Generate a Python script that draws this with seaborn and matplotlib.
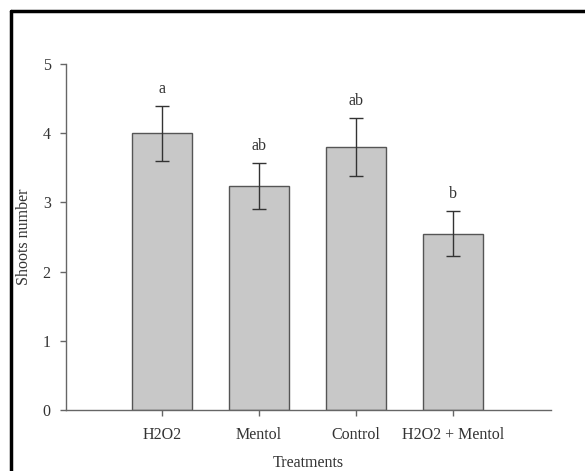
import pandas as pd
import matplotlib.pyplot as plt
import seaborn as sns
from matplotlib.lines import Line2D

treatments = ['H2O2', 'Mentol', 'Control', 'H2O2 + Mentol']
shoots = [4.0, 3.24, 3.80, 2.55]
errors = [0.40, 0.33, 0.42, 0.33]
letters = ['a', 'ab', 'ab', 'b']

df = pd.DataFrame({'Treatment': treatments, 'Shoots': shoots})

sns.set_style('ticks')
plt.rcParams['font.family'] = ['Liberation Serif', 'DejaVu Serif']

fig = plt.figure(figsize=(5.85, 4.71), dpi=100)
ax = fig.add_axes([0.1128, 0.1295, 0.829, 0.7345])

sns.barplot(data=df, x='Treatment', y='Shoots', order=treatments, color='#c8c8c8',
            saturation=1, width=0.61, edgecolor='#555555', linewidth=1, errorbar=None, ax=ax)

xs = ax.get_xticks()
ax.errorbar(xs, shoots, yerr=errors, fmt='none', ecolor='#333333', elinewidth=1,
            capsize=5, capthick=1)
for x, m, e, t in zip(xs, shoots, errors, letters):
    ax.text(x, m + e + 0.13, t, ha='center', va='bottom', fontsize=11.5, color='#333333')

ax.set_xlim(-0.99, 4.01)
ax.set_ylim(0, 5)
ax.set_yticks([0, 1, 2, 3, 4, 5])
ax.set_xlabel('Treatments', fontsize=11.5, color='#333333', labelpad=9)
ax.set_ylabel('Shoots number', fontsize=11.5, color='#333333', labelpad=8)
ax.tick_params(axis='both', labelsize=11.5, colors='#666666', labelcolor='#333333',
               length=4, width=1)
ax.tick_params(axis='x', pad=8)
ax.tick_params(axis='y', pad=7)
for side in ['left', 'bottom']:
    ax.spines[side].set_color('#666666')
    ax.spines[side].set_linewidth(1)
sns.despine(ax=ax)

# outer frame: only its top and left sides fall inside the image
fig.add_artist(Line2D([0.018, 1.0], [0.9756, 0.9756], transform=fig.transFigure,
                      color='black', linewidth=2.5))
fig.add_artist(Line2D([0.018, 0.018], [0.0, 0.9756], transform=fig.transFigure,
                      color='black', linewidth=2.5))

fig.savefig('out.png', dpi=100)
